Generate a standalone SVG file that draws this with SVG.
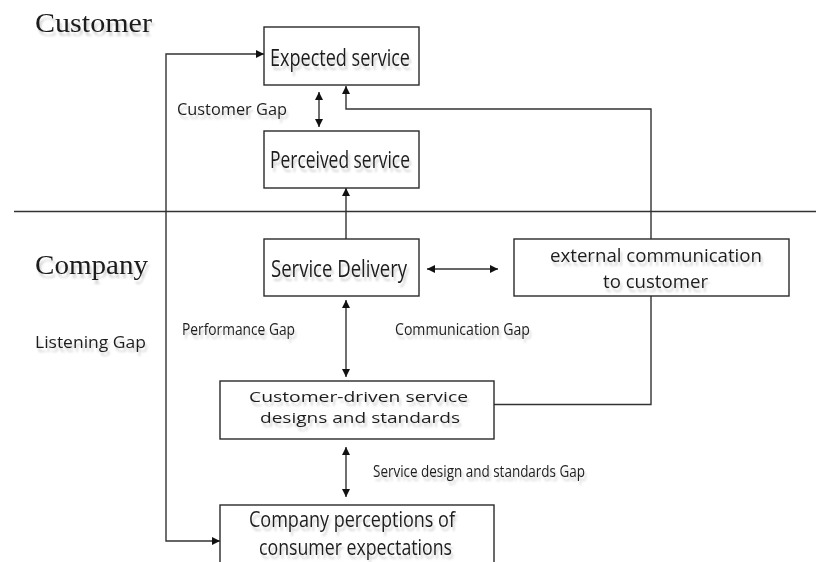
<svg xmlns="http://www.w3.org/2000/svg" width="816" height="562" viewBox="0 0 816 562">
  <defs>
    <style>
      .box { fill: #fff; stroke: #2a2a2a; stroke-width: 1.4; }
      .ln { fill: none; stroke: #333; stroke-width: 1.4; }
      .t { font-family: "Open Sans", "Liberation Sans", sans-serif; fill: #1e1e1e; filter: url(#ghost); }
      .side { font-family: "Liberation Serif", serif; font-size: 28px; fill: #1a1a1a; filter: url(#ghost); }
    </style>
    <!-- soft grey echo below each label -->
    <filter id="ghost" x="-5%" y="-20%" width="115%" height="160%">
      <feOffset in="SourceAlpha" dx="2" dy="4" result="o"/>
      <feGaussianBlur in="o" stdDeviation="0.8" result="b"/>
      <feFlood flood-color="#000" flood-opacity="0.18"/>
      <feComposite in2="b" operator="in" result="s"/>
      <feMerge><feMergeNode in="s"/><feMergeNode in="SourceGraphic"/></feMerge>
    </filter>
    <marker id="head" viewBox="0 0 10 10" refX="10" refY="5" markerWidth="8" markerHeight="8" markerUnits="userSpaceOnUse" orient="auto-start-reverse">
      <path d="M0,0 L10,5 L0,10 z" fill="#111"/>
    </marker>
  </defs>

  <!-- customer / company divider -->
  <line class="ln" x1="14" y1="211.5" x2="816" y2="211.5"/>

  <text class="side" x="35" y="32" textLength="117" lengthAdjust="spacingAndGlyphs">Customer</text>
  <text class="side" x="35" y="274" textLength="113" lengthAdjust="spacingAndGlyphs">Company</text>

  <g id="connectors">
    <!-- listening gap loop -->
    <polyline class="ln" points="264,54 166,54 166,541 220,541" marker-start="url(#head)" marker-end="url(#head)"/>
    <!-- customer gap -->
    <line class="ln" x1="319" y1="92" x2="319" y2="127" marker-start="url(#head)" marker-end="url(#head)"/>
    <!-- external communication feeds expectations -->
    <polyline class="ln" points="651,239 651,109 346,109 346,86" marker-end="url(#head)"/>
    <!-- delivery to perceived -->
    <line class="ln" x1="346" y1="239" x2="346" y2="188" marker-end="url(#head)"/>
    <!-- delivery <-> external communication -->
    <line class="ln" x1="427" y1="269" x2="498" y2="269" marker-start="url(#head)" marker-end="url(#head)"/>
    <!-- performance gap -->
    <line class="ln" x1="346" y1="300" x2="346" y2="377" marker-start="url(#head)" marker-end="url(#head)"/>
    <!-- standards to external communication -->
    <polyline class="ln" points="494,404.5 651,404.5 651,296"/>
    <!-- design and standards gap -->
    <line class="ln" x1="346" y1="447" x2="346" y2="497" marker-start="url(#head)" marker-end="url(#head)"/>
  </g>

  <g id="expected">
    <rect class="box" x="264" y="27" width="155" height="58"/>
    <text class="t" x="270" y="66" font-size="24" textLength="140" lengthAdjust="spacingAndGlyphs">Expected service</text>
  </g>
  <g id="perceived">
    <rect class="box" x="264" y="131" width="155" height="57"/>
    <text class="t" x="270" y="168" font-size="24" textLength="140" lengthAdjust="spacingAndGlyphs">Perceived service</text>
  </g>
  <g id="delivery">
    <rect class="box" x="264" y="239" width="155" height="57"/>
    <text class="t" x="271" y="277" font-size="23" textLength="136" lengthAdjust="spacingAndGlyphs">Service Delivery</text>
  </g>
  <g id="external">
    <rect class="box" x="514" y="239" width="275" height="57"/>
    <text class="t" x="550" y="262" font-size="18" textLength="212" lengthAdjust="spacingAndGlyphs">external communication</text>
    <text class="t" x="603" y="288" font-size="18" textLength="105" lengthAdjust="spacingAndGlyphs">to customer</text>
  </g>
  <g id="standards">
    <rect class="box" x="220" y="381" width="274" height="58"/>
    <text class="t" x="249" y="402" font-size="15" textLength="219" lengthAdjust="spacingAndGlyphs">Customer-driven service</text>
    <text class="t" x="260" y="423" font-size="15" textLength="200" lengthAdjust="spacingAndGlyphs">designs and standards</text>
  </g>
  <g id="perceptions">
    <rect class="box" x="220" y="505" width="274" height="70"/>
    <text class="t" x="249" y="527" font-size="22" textLength="206" lengthAdjust="spacingAndGlyphs">Company perceptions of</text>
    <text class="t" x="259" y="555" font-size="22" textLength="193" lengthAdjust="spacingAndGlyphs">consumer expectations</text>
  </g>

  <g id="gap-labels">
    <text class="t" x="177" y="115" font-size="16" textLength="110" lengthAdjust="spacingAndGlyphs">Customer Gap</text>
    <text class="t" x="35" y="348" font-size="17" textLength="111" lengthAdjust="spacingAndGlyphs">Listening Gap</text>
    <text class="t" x="182" y="335" font-size="16" textLength="113" lengthAdjust="spacingAndGlyphs">Performance Gap</text>
    <text class="t" x="395" y="335" font-size="16" textLength="135" lengthAdjust="spacingAndGlyphs">Communication Gap</text>
    <text class="t" x="373" y="477" font-size="16" textLength="212" lengthAdjust="spacingAndGlyphs">Service design and standards Gap</text>
  </g>
</svg>
